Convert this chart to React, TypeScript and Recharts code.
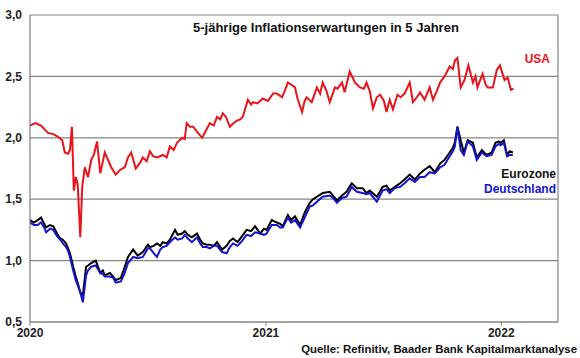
import React from 'react';
import { LineChart, Line, XAxis, YAxis, CartesianGrid, ReferenceLine } from 'recharts';

// days since 2020-01-01
const usaDay = [0, 8, 17, 28, 36, 43, 50, 54, 59, 62, 65, 68, 71, 74, 78, 81, 85, 90, 95, 99, 104, 109, 116, 126, 133, 140, 147, 152, 157, 164, 171, 175, 181, 186, 191, 197, 206, 212, 217, 223, 228, 236, 240, 243, 248, 253, 259, 267, 273, 279, 285, 290, 295, 299, 304, 310, 316, 321, 326, 330, 338, 343, 346, 353, 361, 369, 377, 383, 391, 395, 400, 406, 411, 415, 422, 426, 429, 437, 445, 450, 454, 460, 465, 473, 477, 484, 488, 496, 504, 512, 518, 522, 527, 532, 538, 543, 549, 553, 558, 563, 570, 575, 581, 589, 594, 600, 605, 612, 620, 625, 631, 636, 643, 651, 656, 659, 663, 668, 674, 680, 687, 691, 694, 702, 707, 710, 718, 724, 729, 736, 741, 746, 750];
const usa = [2.10, 2.12, 2.10, 2.04, 2.03, 2.01, 1.98, 1.88, 1.87, 1.90, 2.09, 1.57, 1.68, 1.62, 1.19, 1.60, 1.76, 1.68, 1.82, 1.86, 1.97, 1.71, 1.88, 1.76, 1.70, 1.74, 1.76, 1.84, 1.88, 1.75, 1.80, 1.84, 1.81, 1.89, 1.85, 1.84, 1.86, 1.84, 1.93, 1.90, 1.96, 2.00, 1.99, 2.12, 2.09, 2.09, 2.05, 2.00, 2.06, 2.12, 2.10, 2.17, 2.15, 2.20, 2.17, 2.09, 2.12, 2.14, 2.15, 2.17, 2.31, 2.27, 2.29, 2.28, 2.32, 2.30, 2.36, 2.36, 2.33, 2.38, 2.45, 2.43, 2.41, 2.32, 2.21, 2.30, 2.33, 2.29, 2.41, 2.36, 2.45, 2.38, 2.29, 2.41, 2.40, 2.45, 2.37, 2.54, 2.45, 2.41, 2.40, 2.45, 2.38, 2.24, 2.33, 2.35, 2.30, 2.21, 2.31, 2.23, 2.35, 2.33, 2.36, 2.45, 2.29, 2.33, 2.37, 2.31, 2.41, 2.31, 2.38, 2.45, 2.50, 2.58, 2.56, 2.63, 2.65, 2.41, 2.47, 2.59, 2.45, 2.50, 2.41, 2.52, 2.43, 2.41, 2.41, 2.55, 2.59, 2.47, 2.49, 2.39, 2.40];

const euroDay = [0, 6, 12, 17, 22, 25, 31, 36, 42, 47, 51, 56, 59, 62, 67, 71, 74, 78, 82, 87, 90, 95, 102, 109, 113, 116, 124, 129, 133, 141, 147, 152, 160, 167, 175, 183, 186, 192, 197, 202, 206, 212, 217, 225, 229, 236, 240, 245, 251, 259, 264, 268, 274, 279, 285, 290, 298, 305, 310, 315, 322, 329, 336, 343, 349, 357, 363, 367, 375, 383, 388, 392, 400, 405, 411, 419, 426, 434, 439, 445, 454, 465, 470, 476, 484, 491, 499, 507, 516, 522, 527, 538, 547, 553, 558, 566, 574, 581, 589, 597, 605, 612, 620, 628, 636, 643, 651, 656, 659, 663, 668, 673, 679, 687, 693, 701, 708, 716, 722, 727, 730, 735, 740, 744, 749];
const eurozone = [1.33, 1.31, 1.33, 1.35, 1.30, 1.27, 1.29, 1.28, 1.22, 1.18, 1.17, 1.14, 1.10, 1.06, 0.95, 0.87, 0.82, 0.74, 0.72, 0.95, 0.96, 0.98, 1.00, 0.90, 0.92, 0.88, 0.90, 0.87, 0.84, 0.86, 0.95, 1.03, 1.09, 1.04, 1.07, 1.13, 1.11, 1.12, 1.14, 1.12, 1.15, 1.14, 1.17, 1.25, 1.21, 1.22, 1.24, 1.21, 1.19, 1.22, 1.17, 1.14, 1.13, 1.13, 1.12, 1.15, 1.09, 1.12, 1.16, 1.18, 1.15, 1.20, 1.25, 1.24, 1.28, 1.22, 1.26, 1.25, 1.33, 1.31, 1.30, 1.28, 1.37, 1.33, 1.36, 1.29, 1.39, 1.47, 1.50, 1.52, 1.55, 1.56, 1.53, 1.49, 1.53, 1.56, 1.63, 1.59, 1.59, 1.55, 1.57, 1.52, 1.60, 1.61, 1.57, 1.60, 1.63, 1.66, 1.70, 1.66, 1.71, 1.74, 1.77, 1.72, 1.79, 1.82, 1.88, 1.92, 1.96, 2.09, 1.98, 1.88, 1.98, 1.96, 1.84, 1.90, 1.86, 1.88, 1.96, 1.97, 1.96, 1.98, 1.86, 1.89, 1.88];
const deutschland = [1.31, 1.29, 1.29, 1.31, 1.27, 1.23, 1.26, 1.25, 1.20, 1.17, 1.14, 1.11, 1.08, 1.03, 0.92, 0.84, 0.80, 0.74, 0.66, 0.88, 0.92, 0.95, 0.96, 0.90, 0.89, 0.87, 0.87, 0.86, 0.82, 0.83, 0.90, 0.98, 1.03, 1.02, 1.03, 1.10, 1.10, 1.06, 1.03, 1.09, 1.11, 1.12, 1.15, 1.19, 1.17, 1.18, 1.21, 1.18, 1.15, 1.19, 1.14, 1.11, 1.11, 1.10, 1.12, 1.12, 1.07, 1.06, 1.11, 1.14, 1.12, 1.16, 1.21, 1.20, 1.23, 1.22, 1.21, 1.22, 1.29, 1.29, 1.27, 1.27, 1.35, 1.31, 1.33, 1.27, 1.35, 1.44, 1.45, 1.48, 1.52, 1.53, 1.51, 1.47, 1.51, 1.52, 1.60, 1.56, 1.55, 1.54, 1.55, 1.48, 1.57, 1.58, 1.55, 1.59, 1.60, 1.63, 1.67, 1.64, 1.68, 1.68, 1.72, 1.71, 1.76, 1.78, 1.85, 1.89, 1.93, 2.09, 1.90, 1.86, 1.97, 1.93, 1.82, 1.88, 1.85, 1.86, 1.93, 1.95, 1.94, 1.96, 1.85, 1.86, 1.86];

const xTicks = [0, 366, 731];
const xTickLabels = ['2020', '2021', '2022'];
const yTicks = [0.5, 1.0, 1.5, 2.0, 2.5, 3.0];
const yTickLabels = ['0,5', '1,0', '1,5', '2,0', '2,5', '3,0'];
const xMax = 819;

const usaData = usaDay.map((d, i) => ({ day: d, usa: usa[i] }));
const euroData = euroDay.map((d, i) => ({ day: d, eurozone: eurozone[i], deutschland: deutschland[i] }));

const font = '"Liberation Sans", Arial, sans-serif';
const tickStyle = { fontSize: 12, fontWeight: 700, fill: '#222', fontFamily: font };

export default function App() {
  return (
    <div style={{ position: 'absolute', left: 0, top: 0, width: 580, height: 358, background: '#fff', fontFamily: font }}>
      <LineChart width={580} height={358} margin={{ top: 15, right: 22, bottom: 6, left: 0 }}>
        <CartesianGrid horizontal vertical={false} stroke="#858585" strokeWidth={1.2} />
        <XAxis
          dataKey="day"
          type="number"
          domain={[0, xMax]}
          ticks={xTicks}
          tickFormatter={(v: number) => xTickLabels[xTicks.indexOf(v)]}
          tick={tickStyle}
          tickSize={4}
          height={30}
          stroke="#858585"
          allowDataOverflow
        />
        <YAxis
          type="number"
          domain={[0.5, 3.0]}
          ticks={yTicks}
          tickFormatter={(v: number) => yTickLabels[yTicks.indexOf(v)]}
          tick={tickStyle}
          tickLine={false}
          width={30}
          stroke="#666"
        />
        <ReferenceLine x={xMax} stroke="#858585" strokeWidth={1.2} />
        <Line data={usaData} dataKey="usa" stroke="#e8141c" strokeWidth={2} dot={false} isAnimationActive={false} />
        <Line data={euroData} dataKey="eurozone" stroke="#000" strokeWidth={2} dot={false} isAnimationActive={false} />
        <Line data={euroData} dataKey="deutschland" stroke="#1414cc" strokeWidth={2} dot={false} isAnimationActive={false} />
      </LineChart>
      <div style={{ position: 'absolute', left: 193, top: 20, fontSize: 13, fontWeight: 700, color: '#111', whiteSpace: 'nowrap' }}>
        5-jährige Inflationserwartungen in 5 Jahren
      </div>
      <div style={{ position: 'absolute', right: 30, top: 52, fontSize: 12, fontWeight: 700, color: '#e8141c' }}>USA</div>
      <div style={{ position: 'absolute', right: 24, top: 167, fontSize: 12, fontWeight: 700, color: '#111' }}>Eurozone</div>
      <div style={{ position: 'absolute', right: 24, top: 182, fontSize: 12, fontWeight: 700, color: '#1414cc' }}>Deutschland</div>
      <div style={{ position: 'absolute', right: 3, top: 343, fontSize: 11.4, fontWeight: 700, color: '#111', whiteSpace: 'nowrap' }}>
        Quelle: Refinitiv, Baader Bank Kapitalmarktanalyse
      </div>
    </div>
  );
}
